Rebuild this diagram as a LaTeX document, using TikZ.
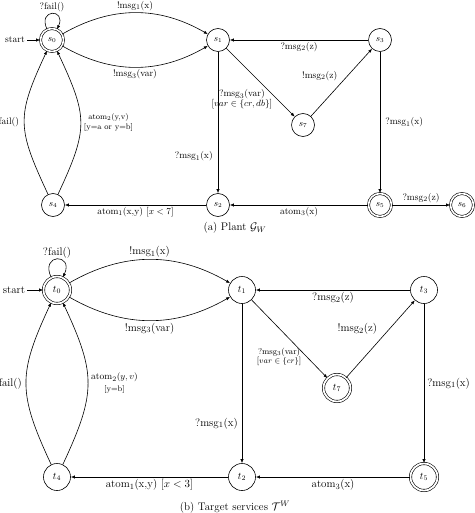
\documentclass[tikz,border=0pt]{standalone}
\usepackage{amsmath,amssymb}
\usetikzlibrary{arrows.meta}

\begin{document}
\begin{tikzpicture}[x=1pt, y=-1pt, semithick,
  st/.style={draw, circle, minimum size=23pt, inner sep=0pt, font=\small},
  acc/.style={st, double, double distance=1.6pt},
  tst/.style={st, minimum size=27pt, font=\normalsize},
  tacc/.style={tst, double, double distance=1.8pt},
  lbl/.style={font=\fontsize{9.5}{11}\selectfont, inner sep=2pt},
  tlbl/.style={font=\fontsize{11}{13}\selectfont, inner sep=2pt},
  selfloop/.style={out=115, in=65, looseness=1},
  >={Latex[length=4pt,width=3.2pt]}]
  \useasboundingbox (0,0) rectangle (474,513);
  % (a) plant
  \node[acc] (s0) at (52,40)   {$s_0$};
  \node[st]  (s1) at (218,40)  {$s_1$};
  \node[st]  (s3) at (380,40)  {$s_3$};
  \node[st]  (s7) at (303,125) {$s_7$};
  \node[st]  (s4) at (53,205)  {$s_4$};
  \node[st]  (s2) at (218,205) {$s_2$};
  \node[acc] (s5) at (380,205) {$s_5$};
  \node[acc] (s6) at (462,205) {$s_6$};
  \node[lbl] (sa) at (15,40) {start};
  \draw[->] (sa) -- (s0);
  \draw[->] (s0) to[selfloop, min distance=23pt]
    node[lbl,above,inner sep=1pt] {?fail()} (s0);
  \draw[->] (s0) to[bend left=30] node[lbl,above] {!msg$_1$(x)} (s1);
  \draw[->] (s0) to[bend right=30] node[lbl,below] {!msg$_3$(var)} (s1);
  \draw[->] (s3) -- node[lbl,below] {?msg$_2$(z)} (s1);
  \draw[->] (s1) -- node[lbl,pos=0.75,left=3pt,align=center]
    {?msg$_3$(var)\\[-1pt]{[$var \in \{cr, db\}$]}} (s7);
  \draw[->] (s7) -- node[lbl,pos=0.6,left=8pt] {!msg$_2$(z)} (s3);
  \draw[->] (s1) -- node[lbl,pos=0.74,left=3pt] {?msg$_1$(x)} (s2);
  \draw[->] (s3) -- node[lbl,right=3pt] {?msg$_1$(x)} (s5);
  \draw[->] (s5) -- node[lbl,below] {atom$_3$(x)} (s2);
  \draw[->] (s2) -- node[lbl,below] {atom$_1$(x,y) [$x<7$]} (s4);
  \draw[->] (s5) -- node[lbl,above] {?msg$_2$(z)} (s6);
  \draw[->] (s4) to[out=115, in=245, looseness=1.3]
    node[lbl,left=3pt] {fail()} (s0);
  \draw[->] (s4) to[out=65, in=-65, looseness=1.3]
    node[lbl,right=1pt,align=center,font=\fontsize{8}{9.5}\selectfont]
    {atom$_2$(y,v)\\{[y=a or y=b]}} (s0);
  \node[tlbl] (capa) at (235,228) {(a) Plant $\mathcal{G}_W$};
  % (b) target services
  \node[tacc] (t0) at (57,290)  {$t_0$};
  \node[tst]  (t1) at (242,290) {$t_1$};
  \node[tst]  (t3) at (424,290) {$t_3$};
  \node[tacc] (t7) at (337,388) {$t_7$};
  \node[tst]  (t4) at (57,477)  {$t_4$};
  \node[tst]  (t2) at (242,477) {$t_2$};
  \node[tacc] (t5) at (424,477) {$t_5$};
  \node[tlbl] (sb) at (14,290) {start};
  \draw[->] (sb) -- (t0);
  \draw[->] (t0) to[selfloop, min distance=27pt]
    node[tlbl,above,inner sep=1pt] {?fail()} (t0);
  \draw[->] (t0) to[bend left=30] node[tlbl,above] {!msg$_1$(x)} (t1);
  \draw[->] (t0) to[bend right=30] node[tlbl,below] {!msg$_3$(var)} (t1);
  \draw[->] (t3) -- node[tlbl,below] {?msg$_2$(z)} (t1);
  \draw[->] (t1) -- node[pos=0.73,left=2pt,align=center,
      font=\fontsize{8.5}{10}\selectfont]
    {?msg$_3$(var)\\[-1pt]{[$var \in \{cr\}$]}} (t7);
  \draw[->] (t7) -- node[tlbl,pos=0.63,left=10pt] {!msg$_2$(z)} (t3);
  \draw[->] (t1) -- node[tlbl,pos=0.75,left=2pt] {?msg$_1$(x)} (t2);
  \draw[->] (t3) -- node[tlbl,right=1pt] {?msg$_1$(x)} (t5);
  \draw[->] (t5) -- node[tlbl,below] {atom$_3$(x)} (t2);
  \draw[->] (t2) -- node[tlbl,below] {atom$_1$(x,y) [$x<3$]} (t4);
  \draw[->] (t4) to[out=115, in=245, looseness=1.25]
    node[tlbl,left=2pt] {fail()} (t0);
  \draw[->] (t4) to[out=65, in=-65, looseness=1.25]
    node[lbl,right=1pt,align=center]
    {atom$_2(y,v)$\\[1pt]{\fontsize{8}{9.5}\selectfont[y=b]}} (t0);
  \node[tlbl] (capb) at (235,507) {(b) Target services $\mathcal{T}^W$};
\end{tikzpicture}
\end{document}
